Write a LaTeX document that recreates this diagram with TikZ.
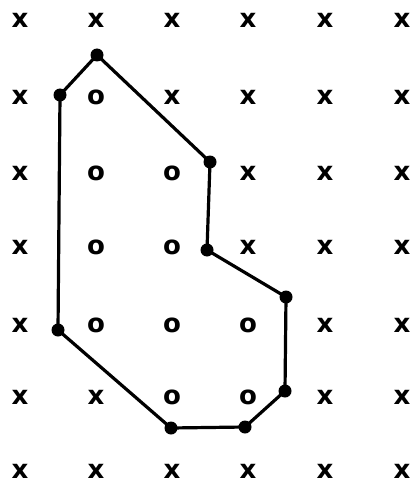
\documentclass[tikz,border=0pt]{standalone}
\usepackage{fontspec}
\setmainfont{DejaVu Sans}
\begin{document}
\begin{tikzpicture}[x=1pt,y=-1pt,
  lbl/.style={font=\bfseries\fontsize{26}{26}\selectfont, inner sep=0pt, anchor=center},
  vtx/.style={circle, fill=black, inner sep=0pt, minimum size=13pt},
  edge/.style={line width=3.2pt, line join=round}]
\useasboundingbox (0,0) rectangle (410,484);
% grid labels
\foreach \r/\ry/\txt in {0/20/{x,x,x,x,x,x},1/97/{x,o,x,x,x,x},2/173/{x,o,o,x,x,x},3/247/{x,o,o,x,x,x},4/325/{x,o,o,o,x,x},5/397/{x,x,o,o,x,x},6/471/{x,x,x,x,x,x}}{
  \foreach \ch [count=\c] in \txt{
    \pgfmathsetmacro{\cx}{{20,96,172,248,325,402}[\c-1]}
    \node[lbl] (g\r\c) at (\cx,\ry) {\ch};
  }
}
% polygon vertices
\node[vtx] (p1) at (97,55) {};
\node[vtx] (p2) at (60,95) {};
\node[vtx] (p3) at (210,162) {};
\node[vtx] (p4) at (207,250) {};
\node[vtx] (p5) at (286,297) {};
\node[vtx] (p6) at (285,391) {};
\node[vtx] (p7) at (245,427) {};
\node[vtx] (p8) at (171,428) {};
\node[vtx] (p9) at (58,330) {};
\draw[edge] (p1.center) -- (p3.center) -- (p4.center) -- (p5.center) -- (p6.center) -- (p7.center) -- (p8.center) -- (p9.center) -- (p2.center) -- cycle;
\end{tikzpicture}
\end{document}
